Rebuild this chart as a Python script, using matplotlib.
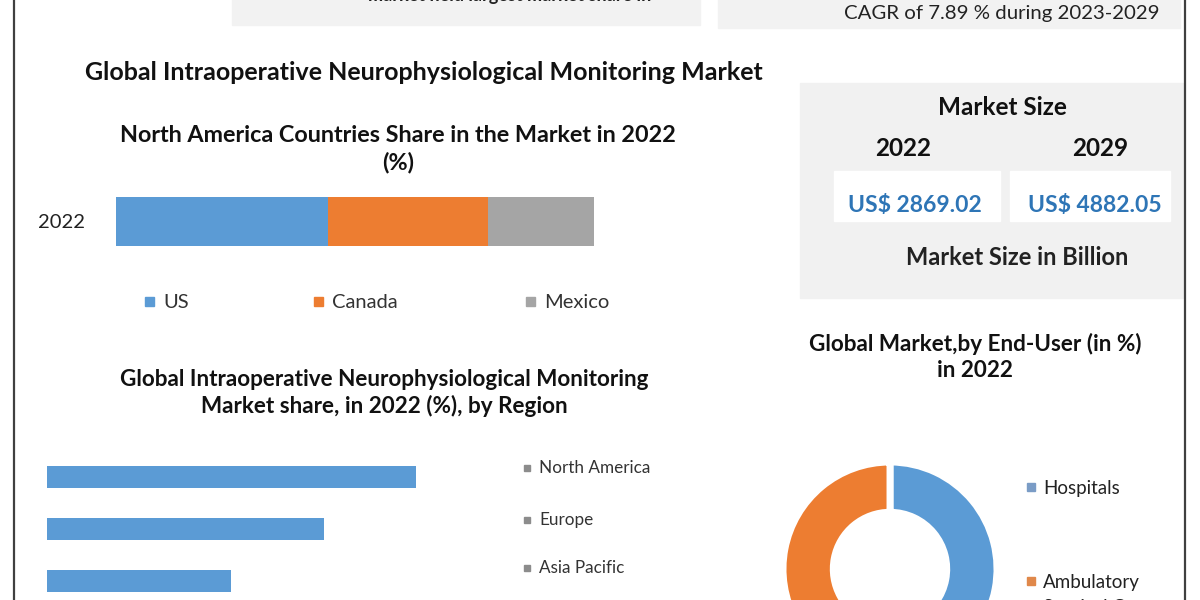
import matplotlib.pyplot as plt
from matplotlib.patches import Rectangle

plt.rcParams['font.family'] = ['Lato', 'DejaVu Sans']

# data
countries = ["US", "Canada", "Mexico"]
country_share = [44.4, 33.5, 22.1]
country_colors = ["#5B9BD5", "#ED7D31", "#A5A5A5"]
year_label = "2022"

regions = ["North America", "Europe", "Asia Pacific"]
region_share = [40, 30, 20]

end_users = ["Hospitals", "Ambulatory\nSurgical Centers"]
end_user_share = [56, 44]
end_user_colors = ["#5B9BD5", "#ED7D31"]
end_user_marks = ["#7A9CC6", "#E0884A"]

size_years = ["2022", "2029"]
size_values = ["US$ 2869.02", "US$ 4882.05"]

W, H = 1200, 600
fig = plt.figure(figsize=(12, 6), dpi=100)
fig.patch.set_facecolor("white")


def px_axes(x0, y0, x1, y1):
    # pixel box (top-left origin) -> figure axes
    return fig.add_axes([x0 / W, 1 - y1 / H, (x1 - x0) / W, (y1 - y0) / H])


def ftext(x, y, s, **kw):
    fig.text(x / W, 1 - y / H, s, **kw)


def frect(x0, y0, x1, y1, **kw):
    fig.patches.append(Rectangle((x0 / W, 1 - y1 / H), (x1 - x0) / W, (y1 - y0) / H,
                                 transform=fig.transFigure, **kw))


# frame lines and background boxes
fig.add_artist(plt.Line2D([14 / W, 14 / W], [0, 1], color="#404040", lw=1.6))
fig.add_artist(plt.Line2D([1185 / W, 1185 / W], [0, 1], color="#404040", lw=1.6))
frect(232, -10, 700, 25, color="#F2F2F2", zorder=0)
frect(718, -10, 1180, 28, color="#F2F2F2", zorder=0)
frect(800, 83, 1183, 298, color="#F1F1F1", zorder=0)
frect(834, 171, 1000, 221, color="white", zorder=0)
frect(1010, 171, 1170, 221, color="white", zorder=0)

ftext(510, -4, "market held largest market share in", ha="center", va="center",
      fontsize=13, fontweight="bold", color="#222222")
ftext(1160, 14, "CAGR of 7.89 % during 2023-2029", ha="right", va="center",
      fontsize=14.7, color="#222222")

ftext(424, 73, "Global Intraoperative Neurophysiological Monitoring Market",
      ha="center", va="center", fontsize=18, fontweight="bold", color="#111111")

# market size panel
ftext(1002, 108, "Market Size", ha="center", va="center", fontsize=17.5,
      fontweight="bold", color="#111111")
for xc, yr, val, vx in zip([903, 1100], size_years, size_values, [915, 1095]):
    ftext(xc, 148, yr, ha="center", va="center", fontsize=17.5, fontweight="bold",
          color="#111111")
    ftext(vx, 205, val, ha="center", va="center", fontsize=16.5, fontweight="bold",
          color="#2E75B6")
ftext(1017, 258, "Market Size in Billion", ha="center", va="center", fontsize=17,
      fontweight="bold", color="#222222")

# stacked bar: North America countries
ftext(398, 149, "North America Countries Share in the Market in 2022\n(%)",
      ha="center", va="center", fontsize=16.8, fontweight="bold", color="#111111",
      linespacing=1.35)
ax1 = px_axes(116, 197, 594, 246)
left = 0
for name, val, col in zip(countries, country_share, country_colors):
    ax1.barh(0, val, left=left, height=1, color=col, label=name)
    left += val
ax1.set_xlim(0, sum(country_share))
ax1.set_ylim(-0.5, 0.5)
ax1.set_xticks([])
ax1.set_yticks([0])
ax1.set_yticklabels([year_label], fontsize=14.5, color="#222222")
ax1.tick_params(axis="y", length=0, pad=22)
for s in ax1.spines.values():
    s.set_visible(False)
for xs, name, col in zip([150, 319, 531], countries, country_colors):
    frect(xs - 5, 297, xs + 4, 306, color=col)
    ftext(xs + 13, 302, name, ha="left", va="center", fontsize=14.5, color="#333333")

# region bars
ftext(384, 393, "Global Intraoperative Neurophysiological Monitoring\nMarket share, in 2022 (%), by Region",
      ha="center", va="center", fontsize=16.2, fontweight="bold", color="#111111",
      linespacing=1.3)
ax2 = px_axes(47, 451, 508, 607)
ax2.barh(range(len(regions)), region_share, height=0.42, color="#5B9BD5")
ax2.set_xlim(0, 50)
ax2.set_ylim(2.5, -0.5)
ax2.axis("off")
for y, name in zip([468, 520, 568], regions):
    frect(524, y - 3, 530, y + 3, color="#8C8C8C")
    ftext(539, y, name, ha="left", va="center", fontsize=12.3, color="#333333")

# donut: end-user
ftext(975, 357, "Global Market,by End-User (in %)\nin 2022", ha="center", va="center",
      fontsize=16.2, fontweight="bold", color="#111111", linespacing=1.3)
ax3 = px_axes(783, 462, 997, 676)
ax3.pie(end_user_share, colors=end_user_colors, startangle=90, counterclock=False,
        radius=1, wedgeprops=dict(width=0.47, edgecolor="white", linewidth=5))
ax3.set_xlim(-1, 1)
ax3.set_ylim(-1, 1)
ax3.set_aspect("equal")
for y, name, mk in zip([487, 581], end_users, end_user_marks):
    frect(1027, y - 4, 1035, y + 4, color=mk)
    ftext(1043, y - 7, name, ha="left", va="top", fontsize=13.5, color="#222222",
          linespacing=1.6)

fig.savefig("out.png", dpi=100)
